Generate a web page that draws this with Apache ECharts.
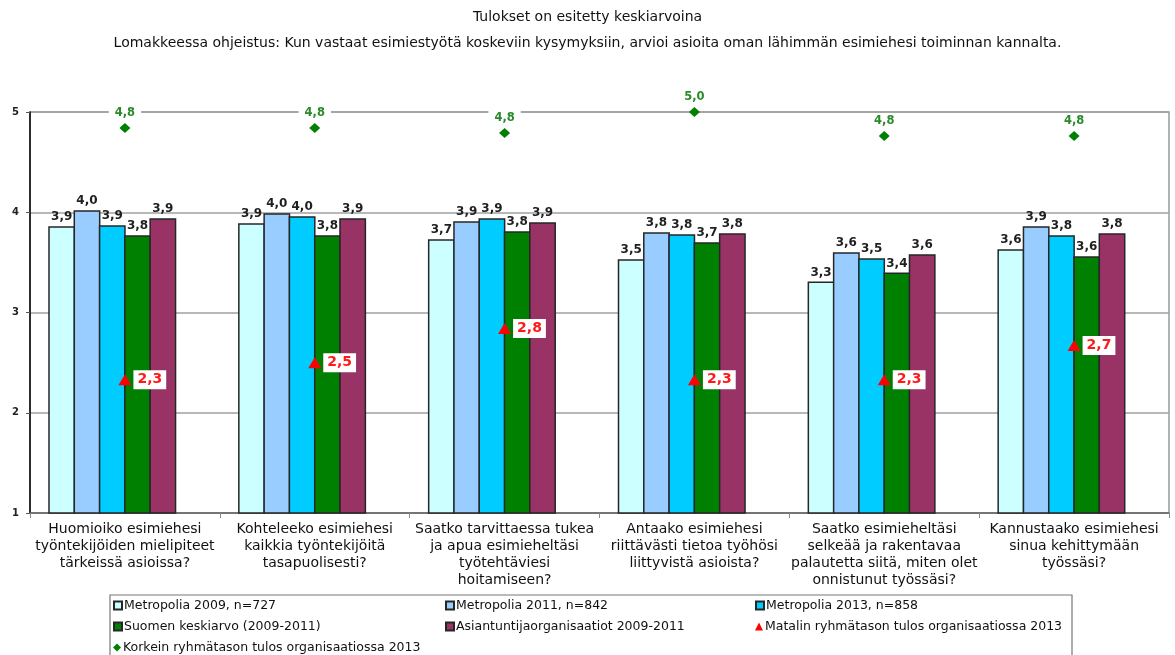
<!DOCTYPE html>
<html>
<head>
<meta charset="utf-8">
<script src="https://cdn.jsdelivr.net/npm/echarts@6/dist/echarts.min.js"></script>
<style>
  html, body { margin: 0; padding: 0; background: #fff; }
  #chart { width: 1175px; height: 655px; }
</style>
</head>
<body>
<div id="chart"></div>
<script>
// Survey questions on the category axis
const categories = [
  'Huomioiko esimiehesi\ntyöntekijöiden mielipiteet\ntärkeissä asioissa?',
  'Kohteleeko esimiehesi\nkaikkia työntekijöitä\ntasapuolisesti?',
  'Saatko tarvittaessa tukea\nja apua esimieheltäsi\ntyötehtäviesi\nhoitamiseen?',
  'Antaako esimiehesi\nriittävästi tietoa työhösi\nliittyvistä asioista?',
  'Saatko esimieheltäsi\nselkeää ja rakentavaa\npalautetta siitä, miten olet\nonnistunut työssäsi?',
  'Kannustaako esimiehesi\nsinua kehittymään\ntyössäsi?'
];

// Mean scores (scale 1–5)
const metropolia2009 = [3.86, 3.89, 3.73, 3.53, 3.31, 3.63];
const metropolia2011 = [4.02, 3.99, 3.91, 3.80, 3.60, 3.86];
const metropolia2013 = [3.87, 3.96, 3.94, 3.78, 3.54, 3.77];
const suomenKeskiarvo = [3.77, 3.77, 3.81, 3.70, 3.40, 3.56];
const asiantuntija = [3.94, 3.94, 3.90, 3.79, 3.58, 3.79];
const matalin2013 = [2.33, 2.50, 2.84, 2.33, 2.33, 2.67];
const korkein2013 = [4.84, 4.84, 4.79, 5.00, 4.76, 4.76];

const yTicks = [1, 2, 3, 4, 5];

const seriesNames = [
  'Metropolia 2009, n=727',
  'Metropolia 2011, n=842',
  'Metropolia 2013, n=858',
  'Suomen keskiarvo (2009-2011)',
  'Asiantuntijaorganisaatiot 2009-2011',
  'Matalin ryhmätason tulos organisaatiossa 2013',
  'Korkein ryhmätason tulos organisaatiossa 2013'
];

const FONT = '"DejaVu Sans", Verdana, sans-serif';
const fmt = v => v.toFixed(1).replace('.', ',');

// six bar slots per category (the last one stays empty); the small
// negative gap lets neighbouring bar outlines meet
const BAR_WIDTH = '14.17%';
const BAR_GAP = '-6%';

function barSeries(name, data, color) {
  return {
    name: name,
    type: 'bar',
    data: data,
    barWidth: BAR_WIDTH,
    barGap: BAR_GAP,
    itemStyle: { color: color, borderColor: '#262626', borderWidth: 1.5 },
    label: {
      show: true,
      position: 'top',
      distance: 3,
      formatter: p => fmt(p.value),
      fontFamily: FONT,
      fontSize: 12,
      fontWeight: 'bold',
      color: '#1f1f1f'
    },
    emphasis: { disabled: true }
  };
}

const chart = echarts.init(document.getElementById('chart'), null, { renderer: 'canvas' });

// One legend block per entry so the three columns line up
const legendCols = [113, 445, 755];
const legendRows = [599, 620, 641];
const legendItems = seriesNames.map((name, i) => ({
  data: [i < 5 ? { name: name, icon: 'rect' } : name],
  left: legendCols[i % 3],
  top: legendRows[Math.floor(i / 3)],
  orient: 'horizontal',
  itemWidth: 8,
  itemHeight: 8,
  itemGap: 2,
  padding: 0,
  selectedMode: false,
  textStyle: { fontFamily: FONT, fontSize: 12.5, color: '#111', padding: [0, 0, 0, -3] }
}));

chart.setOption({
  animation: false,
  backgroundColor: '#fff',
  title: [
    {
      text: 'Tulokset on esitetty keskiarvoina',
      left: 'center', top: 10, padding: 0,
      textStyle: { fontFamily: FONT, fontSize: 14, fontWeight: 'normal', color: '#111' }
    },
    {
      text: 'Lomakkeessa ohjeistus: Kun vastaat esimiestyötä koskeviin kysymyksiin, arvioi asioita oman lähimmän esimiehesi toiminnan kannalta.',
      left: 'center', top: 36, padding: 0,
      textStyle: { fontFamily: FONT, fontSize: 14, fontWeight: 'normal', color: '#111' }
    }
  ],
  legend: legendItems,
  graphic: [
    {
      type: 'rect',
      shape: { x: 110, y: 595, width: 962, height: 80 },
      style: { fill: 'none', stroke: '#777', lineWidth: 1.2 },
      z: 0
    }
  ],
  grid: {
    left: 30, right: 6, top: 112, bottom: 142,
    show: true, borderColor: '#999', borderWidth: 1.5, backgroundColor: 'transparent'
  },
  xAxis: {
    type: 'category',
    data: categories,
    axisLine: { lineStyle: { color: '#666', width: 1.5 } },
    axisTick: { show: true, length: 5, lineStyle: { color: '#888' } },
    axisLabel: {
      fontFamily: FONT, fontSize: 14, color: '#111', lineHeight: 17,
      margin: 8, interval: 0
    }
  },
  yAxis: {
    type: 'value',
    min: yTicks[0],
    max: yTicks[yTicks.length - 1],
    interval: 1,
    axisLine: { show: true, lineStyle: { color: '#000', width: 1.5 } },
    axisTick: { show: true, length: 4, lineStyle: { color: '#555' } },
    axisLabel: {
      fontFamily: FONT, fontSize: 10, fontWeight: 'bold', color: '#222', margin: 11,
      formatter: v => yTicks.includes(v) ? String(v) : ''
    },
    splitLine: { lineStyle: { color: '#a0a0a0', width: 1.5 } }
  },
  series: [
    barSeries(seriesNames[0], metropolia2009, '#CCFFFF'),
    barSeries(seriesNames[1], metropolia2011, '#99CCFF'),
    barSeries(seriesNames[2], metropolia2013, '#00CCFF'),
    barSeries(seriesNames[3], suomenKeskiarvo, '#008000'),
    barSeries(seriesNames[4], asiantuntija, '#993366'),
    // empty sixth slot: keeps the bar group left of the category centre
    {
      name: 'tyhjä',
      type: 'bar',
      data: categories.map(() => 0),
      barWidth: BAR_WIDTH,
      barGap: BAR_GAP,
      itemStyle: { color: 'transparent' },
      silent: true
    },
    {
      name: seriesNames[5],
      type: 'scatter',
      data: matalin2013,
      symbol: 'triangle',
      symbolSize: [13, 11],
      itemStyle: { color: '#FF0000', opacity: 1 },
      z: 5,
      label: {
        show: true,
        position: 'right',
        distance: 2,
        formatter: p => fmt(p.value),
        fontFamily: FONT, fontSize: 14, fontWeight: 'bold', color: '#FF1a1a',
        backgroundColor: '#fff', padding: [3, 4, 2, 4]
      },
      emphasis: { disabled: true }
    },
    {
      name: seriesNames[6],
      type: 'scatter',
      data: korkein2013,
      symbol: 'diamond',
      symbolSize: [11, 10],
      itemStyle: { color: '#008000', opacity: 1 },
      z: 5,
      label: {
        show: true,
        position: 'top',
        distance: 3,
        formatter: p => fmt(p.value),
        fontFamily: FONT, fontSize: 11.5, fontWeight: 'bold', color: '#2a8a2a',
        backgroundColor: '#fff', padding: [1, 6, 1, 6]
      },
      emphasis: { disabled: true }
    }
  ]
});
</script>
</body>
</html>
